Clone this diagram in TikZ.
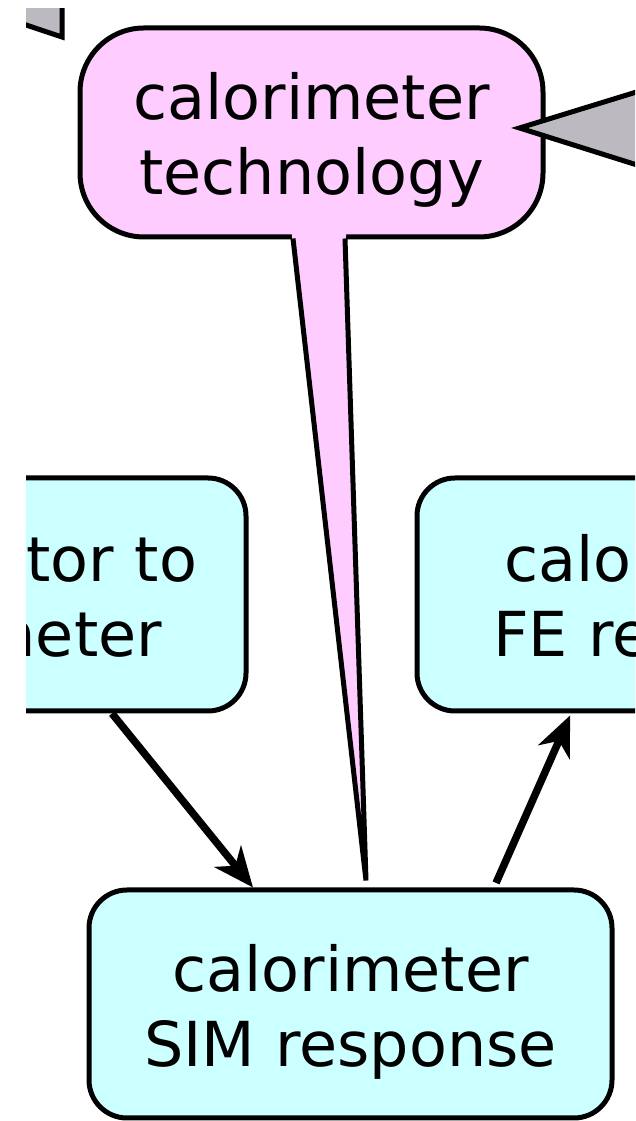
\documentclass[tikz,border=0pt]{standalone}
\usepackage{fontspec}
\setmainfont{DejaVu Sans}
\usepackage{tikz}
\usetikzlibrary{arrows.meta,positioning,calc}

\definecolor{techpink}{RGB}{255,204,255}
\definecolor{simcyan}{RGB}{204,255,255}
\definecolor{tailgray}{RGB}{189,185,193}

% fixed line height and depth for the box texts
\newcommand{\upstrut}{\rule{0pt}{62pt}}
\newcommand{\dnstrut}{\rule[-12pt]{0pt}{12pt}}

\begin{document}
\begin{tikzpicture}[x=1pt, y=1pt,
    calbox/.style={draw, line width=5pt, rounded corners=38pt, inner sep=0pt,
        font=\fontsize{62}{75}\selectfont, align=center},
    pinkbox/.style={calbox, fill=techpink, rounded corners=64pt},
    cyanbox/.style={calbox, fill=simcyan},
    flow/.style={line width=7.5pt, -{Stealth[length=40pt, width=34pt, inset=12pt]}}]

    \useasboundingbox (0,0) rectangle (635,1121);
    \begin{scope}
    \clip (26,0) rectangle (635,1112);

    % grey tail top left
    \fill[tailgray] (0,1131) -- (62,1131) -- (62,1084) -- (0,1104.7) -- cycle;
    \draw[line width=5pt] (62,1131) -- (62,1084) -- (0,1104.7);

    % boxes
    \node[pinkbox, minimum width=463pt, minimum height=209pt] (tech) at (311.5,988.5)
        {\upstrut calorimeter\\technology\dnstrut};
    \node[cyanbox, minimum width=356pt, minimum height=233pt, text width=258pt, align=right] (ctc) at (68,526.5)
        {\upstrut tor to\\meter\rule{35pt}{0pt}\dnstrut};
    \node[cyanbox, minimum width=528pt, minimum height=233pt, text width=376pt, align=left] (fe) at (681,526.5)
        {\upstrut\rule{11pt}{0pt}calor\\FE re\dnstrut};
    \node[cyanbox, minimum width=523pt, minimum height=228pt] (sim) at (350.5,117)
        {\upstrut calorimeter\\SIM response\dnstrut};

    % callout tail of the technology box
    \coordinate (tailtip) at ([shift={(15.5,7)}]sim.north);
    \fill[techpink] ([shift={(-20,10)}]tech.south) -- ([shift={(-19,-4)}]tech.south) -- (tailtip)
        -- ([shift={(34,-4)}]tech.south) -- ([shift={(35,10)}]tech.south) -- cycle;
    \draw[line width=5pt] ([shift={(-18.5,1)}]tech.south) -- (tailtip) -- ([shift={(33.5,1)}]tech.south);

    % grey tail on the right
    \filldraw[fill=tailgray, line width=5pt] ([shift={(-26,4.5)}]tech.east) -- ++(143,44) -- ++(0,-89) -- cycle;

    % arrows
    \draw[flow] ([xshift=44pt]ctc.south) -- ([xshift=-97.5pt]sim.north);
    \draw[flow, shorten <=5pt, shorten >=2pt] ([xshift=143.5pt]sim.north) -- ([xshift=-110pt]fe.south);
    \end{scope}
\end{tikzpicture}
\end{document}
